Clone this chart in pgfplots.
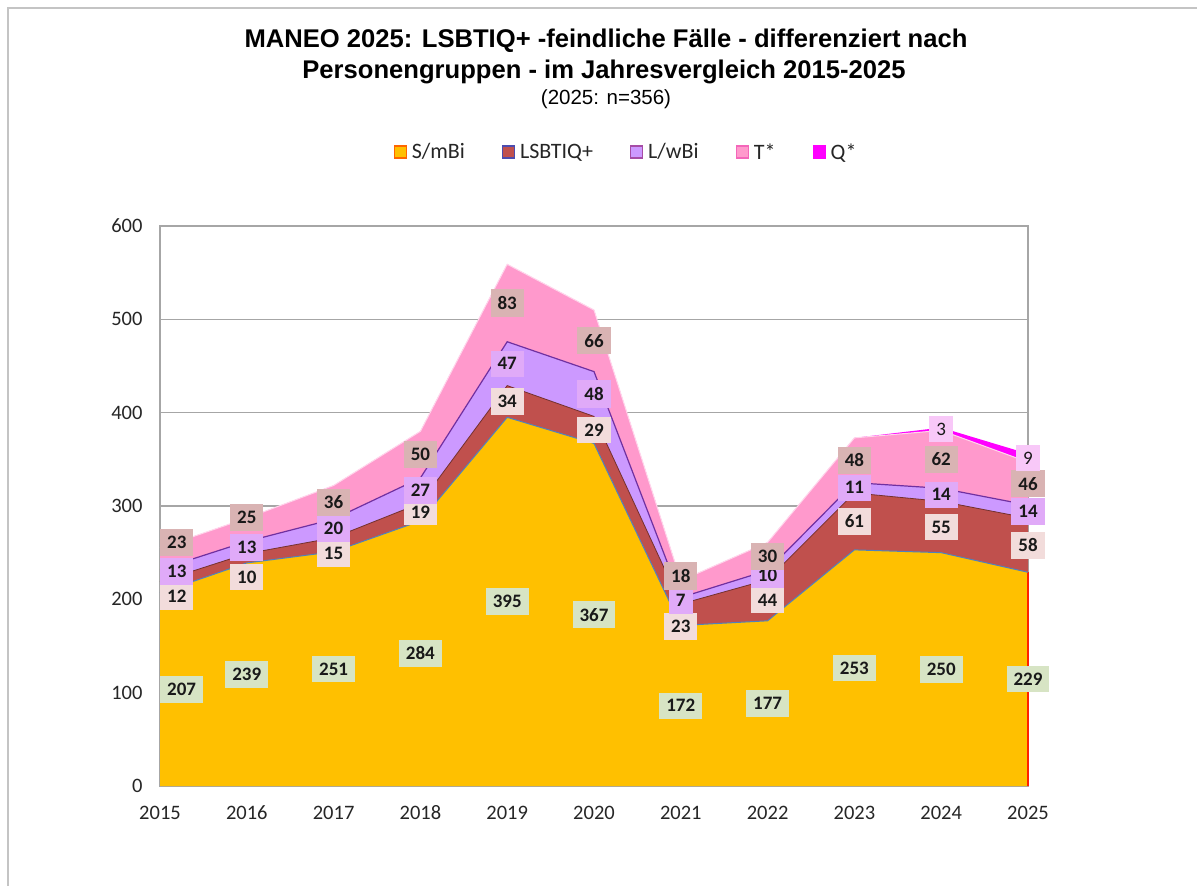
\documentclass[border=0pt]{standalone}
\usepackage{fontspec}
\setmainfont{Carlito}
\newfontfamily\arialf{Liberation Sans}
\usepackage{pgfplots}
\usepackage{pgfplotstable}
\pgfplotsset{compat=1.18}
\definecolor{cS}{HTML}{FFC000}
\definecolor{cL}{HTML}{C0504D}
\definecolor{cW}{HTML}{CC99FF}
\definecolor{cT}{HTML}{FF99CC}
\definecolor{cQ}{HTML}{FF00FF}
\definecolor{bS}{HTML}{D7E4C4}
\definecolor{bL}{HTML}{F2DCDB}
\definecolor{bW}{HTML}{E0AAF8}
\definecolor{bT}{HTML}{D9B3B3}
\definecolor{bQ}{HTML}{F8C8F8}
\definecolor{gridc}{HTML}{A6A6A6}
\definecolor{frame}{HTML}{C4C4C4}
\definecolor{lnS}{HTML}{4F81BD}
\definecolor{lnW}{HTML}{7030A0}

\pgfplotstableread{
year S L W T Q dL dW dT
2015 207 12 13 23 0 -10 4.5 17.5
2016 239 10 13 25 0 -20 0 13.5
2017 251 15 20 36 0 -9.5 0 0
2018 284 19 27 50 0 0 0 0
2019 395 34 47 83 0 0 0 0
2020 367 29 48 66 0 0 0 0
2021 172 23 7 18 0 -12.5 0 14
2022 177 44 10 30 0 0 0 0
2023 253 61 11 48 0 0 0 0
2024 250 55 14 62 3 0 0 0
2025 229 58 14 46 9 0 0 0
}\data
\pgfplotstablecreatecol[create col/expr={\thisrow{S}}]{cA}{\data}
\pgfplotstablecreatecol[create col/expr={\thisrow{S}+\thisrow{L}}]{cB}{\data}
\pgfplotstablecreatecol[create col/expr={\thisrow{S}+\thisrow{L}+\thisrow{W}}]{cC}{\data}
\pgfplotstablecreatecol[create col/expr={\thisrow{S}+\thisrow{L}+\thisrow{W}+\thisrow{T}}]{cD}{\data}
\pgfplotstablecreatecol[create col/expr={\thisrow{S}/2}]{mS}{\data}
\pgfplotstablecreatecol[create col/expr={\thisrow{S}+\thisrow{L}/2+\thisrow{dL}}]{mL}{\data}
\pgfplotstablecreatecol[create col/expr={\thisrow{S}+\thisrow{L}+\thisrow{W}/2+\thisrow{dW}}]{mW}{\data}
\pgfplotstablecreatecol[create col/expr={\thisrow{S}+\thisrow{L}+\thisrow{W}+\thisrow{T}/2+\thisrow{dT}}]{mT}{\data}
\pgfplotstablecreatecol[create col/expr={\thisrow{S}+\thisrow{L}+\thisrow{W}+\thisrow{T}+\thisrow{Q}/2}]{mQ}{\data}

\newcommand\lblfont{\bfseries\fontsize{19}{19}\selectfont}
\newcommand\qfont{\fontsize{19}{19}\selectfont}
\pgfplotsset{
  lblbase/.style={draw=none, nodes near coords, point meta=explicit symbolic,
    nodes near coords style={fill=#1, inner xsep=7pt, inner ysep=7pt, text=black!90}},
}
\newcommand\lbl[4]{%
  \addplot[lblbase=#3, skip coords between index={0}{1},
    nodes near coords style={anchor=center, font=#4}] table[x=year, y=#1, meta=#2] {\data};
  \addplot[lblbase=#3, skip coords between index={1}{11},
    nodes near coords style={anchor=west, font=#4}] table[x=year, y=#1, meta=#2] {\data};
}

\begin{document}
\begin{tikzpicture}
\useasboundingbox (0,0) rectangle (1197pt,-886pt);
\fill[white] (0,0) rectangle (1197pt,-886pt);
\draw[frame, line width=2pt] (8pt,-886pt) -- (8pt,-8pt) -- (1197pt,-8pt);

\node[anchor=base, font=\arialf\bfseries\fontsize{25.6}{30}\selectfont] at (606pt,-47pt)
  {MANEO 2025: LSBTIQ+ -feindliche Fälle - differenziert nach};
\node[anchor=base, font=\arialf\bfseries\fontsize{25.6}{30}\selectfont] at (604pt,-78pt)
  {Personengruppen - im Jahresvergleich 2015-2025};
\node[anchor=base, font=\arialf\fontsize{20.5}{24}\selectfont] at (606pt,-104pt)
  {(2025: n=356)};

\begin{axis}[
  at={(160pt,-786pt)}, anchor=south west,
  scale only axis, width=868pt, height=560pt,
  xmin=2015, xmax=2025, ymin=0, ymax=600,
  xtick={2015,2016,...,2025}, ytick={0,100,...,600},
  /pgf/number format/assume math mode=true,
  /pgf/number format/1000 sep={},
  tick style={draw=none},
  ymajorgrids, grid style={draw=gridc, line width=1.2pt},
  axis line style={draw=gridc, line width=1.2pt},
  ticklabel style={font=\fontsize{20.5}{20.5}\selectfont, text=black!85},
  xticklabel style={text height=13pt, text depth=0pt, yshift=-17pt},
  yticklabel style={xshift=-14pt},
  stack plots=y,
  legend columns=5,
  legend style={at={(0.5369,1.1321)}, anchor=center, draw=none, fill=none,
    font=\fontsize{22}{22}\selectfont, text=black!85,
    /tikz/every odd column/.append style={column sep=3pt},
    /tikz/every even column/.append style={column sep=35pt}},
  legend image code/.code={\draw[#1, line width=1.2pt] (0pt,-6pt) rectangle (12pt,6pt);},
]
\addplot[fill=cS, draw=none, forget plot] table[x=year, y=S] {\data} \closedcycle;
\addplot[fill=cL, draw=none, forget plot] table[x=year, y=L] {\data} \closedcycle;
\addplot[fill=cW, draw=none, forget plot] table[x=year, y=W] {\data} \closedcycle;
\addplot[fill=cT, draw=none, forget plot] table[x=year, y=T] {\data} \closedcycle;
\addplot[fill=cQ, draw=none, forget plot] table[x=year, y=Q] {\data} \closedcycle;
\addlegendimage{fill=cS, draw=orange!80!red}
\addlegendentry{S/mBi}
\addlegendimage{fill=cL, draw=blue!55!black!70}
\addlegendentry{LSBTIQ+}
\addlegendimage{fill=cW, draw=violet!70}
\addlegendentry{L/wBi}
\addlegendimage{fill=cT, draw=magenta!60}
\addlegendentry{T*}
\addlegendimage{fill=cQ, draw=cQ}
\addlegendentry{Q*}
\end{axis}

\begin{axis}[
  at={(160pt,-786pt)}, anchor=south west,
  scale only axis, width=868pt, height=560pt,
  xmin=2015, xmax=2025, ymin=0, ymax=600,
  hide axis, clip=false,
]
\addplot[draw=red!75!orange, line width=1.2pt] coordinates {(2025,0) (2025,229)};
\addplot[draw=cL!60!black, line width=0.8pt] table[x=year, y=cB] {\data};
\addplot[draw=lnS, line width=1pt] table[x=year, y=cA] {\data};
\addplot[draw=lnW, line width=1.2pt] table[x=year, y=cC] {\data};
\addplot[draw=white!60!cT, line width=1pt] table[x=year, y=cD] {\data};
\lbl{mS}{S}{bS}{\lblfont}
\lbl{mL}{L}{bL}{\lblfont}
\lbl{mW}{W}{bW}{\lblfont}
\lbl{mT}{T}{bT}{\lblfont}
\addplot[lblbase=bQ, skip coords between index={0}{9},
  nodes near coords style={anchor=center, font=\qfont}] table[x=year, y=mQ, meta=Q] {\data};
\end{axis}
\end{tikzpicture}
\end{document}
